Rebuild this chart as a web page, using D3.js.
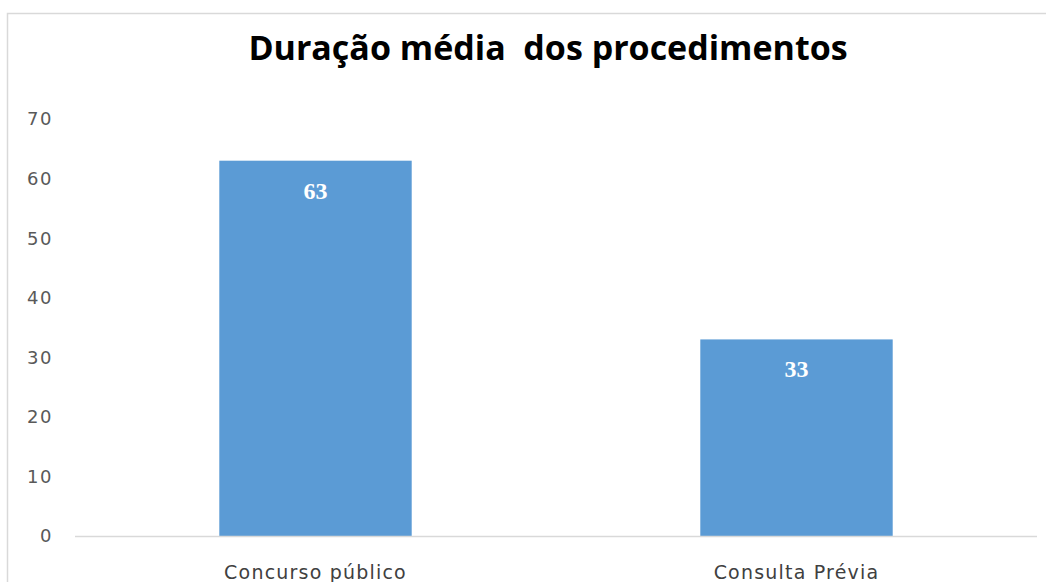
<!DOCTYPE html>
<html>
<head>
<meta charset="utf-8">
<script src="https://cdn.jsdelivr.net/npm/d3@7"></script>
<style>
  body { margin: 0; background: #fff; }
  svg { display: block; }
</style>
</head>
<body>
<script>
// chart data
var categories = ['Concurso público', 'Consulta Prévia'];
var durations = [63, 33];
var yTicks = [0, 10, 20, 30, 40, 50, 60, 70];
var chartTitle = 'Duração média  dos procedimentos';

var W = 1046, H = 582;

var svg = d3.select('body').append('svg')
  .attr('width', W).attr('height', H);

// chart frame (only top + left visible in the crop)
svg.append('path')
  .attr('d', 'M7.5,' + H + 'V13.5H' + W)
  .attr('fill', 'none').attr('stroke', '#d9d9d9').attr('stroke-width', 1.5);

svg.append('text')
  .attr('x', 548).attr('y', 60)
  .attr('text-anchor', 'middle')
  .style('font-family', '"Open Sans", sans-serif')
  .style('font-weight', 'bold')
  .style('font-size', '34px')
  .style('white-space', 'pre')
  .attr('fill', '#000')
  .text(chartTitle);

var x = d3.scaleBand().domain(categories).range([75, 1037])
  .paddingInner(0.6).paddingOuter(0.3);
var y = d3.scaleLinear().domain([0, 70]).range([536, 119]);

// y tick labels (no axis line, no gridlines)
svg.append('g').selectAll('text').data(yTicks).enter().append('text')
  .attr('x', 53).attr('y', function(d) { return y(d); })
  .attr('dy', '0.36em')
  .attr('text-anchor', 'end')
  .style('font-family', '"DejaVu Sans", sans-serif')
  .style('font-size', '18px')
  .style('letter-spacing', '1.5px')
  .attr('fill', '#595959')
  .text(function(d) { return d; });

// bars
svg.append('g').selectAll('rect').data(durations).enter().append('rect')
  .attr('x', function(d, i) { return x(categories[i]); })
  .attr('y', function(d) { return y(d); })
  .attr('width', x.bandwidth())
  .attr('height', function(d) { return y(0) - y(d); })
  .attr('fill', '#5b9bd5');

// baseline
svg.append('line')
  .attr('x1', 75).attr('x2', 1037)
  .attr('y1', y(0) + 0.5).attr('y2', y(0) + 0.5)
  .attr('stroke', '#d9d9d9').attr('stroke-width', 1.5);

// value labels inside bars
svg.append('g').selectAll('text').data(durations).enter().append('text')
  .attr('x', function(d, i) { return x(categories[i]) + x.bandwidth() / 2; })
  .attr('y', function(d) { return y(d) + 38; })
  .attr('text-anchor', 'middle')
  .style('font-family', '"Liberation Serif", serif')
  .style('font-weight', 'bold')
  .style('font-size', '24px')
  .attr('fill', '#fff')
  .text(function(d) { return d; });

// category labels
svg.append('g').selectAll('text').data(categories).enter().append('text')
  .attr('x', function(d) { return x(d) + x.bandwidth() / 2; })
  .attr('y', 579)
  .attr('text-anchor', 'middle')
  .style('font-family', '"DejaVu Sans", sans-serif')
  .style('font-size', '19px')
  .style('letter-spacing', '1.2px')
  .attr('fill', '#404040')
  .text(function(d) { return d; });
</script>
</body>
</html>
